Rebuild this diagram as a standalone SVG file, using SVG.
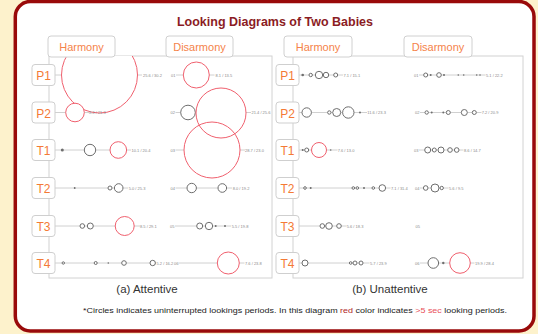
<svg xmlns="http://www.w3.org/2000/svg" width="538" height="334" viewBox="0 0 538 334">
<defs>
<clipPath id="clipL"><rect x="49" y="56" width="223" height="222"/></clipPath>
<style>
.frame{fill:#ffffff;stroke:#990a0a;stroke-width:3.5}
.panel{fill:#ffffff;stroke:#d2d2d2;stroke-width:1}
.tab{fill:#ffffff;stroke:#d0d0d0;stroke-width:1}
.tabt{font-family:"Liberation Sans",Arial,sans-serif;font-size:11px;fill:#f5834a;text-anchor:middle}
.rowbox{fill:#ffffff;stroke:#cfcfcf;stroke-width:1}
.rowt{font-family:"Liberation Sans",Arial,sans-serif;font-size:12px;fill:#f47a35;text-anchor:middle}
.ln{stroke:#c4c4c4;stroke-width:0.8;fill:none}
.g{fill:#ffffff;stroke:#6e6e6e;stroke-width:1}
.d{fill:#6e6e6e;stroke:none}
.r{fill:#ffffff;stroke:#f0606e;stroke-width:1}
.rn{fill:none;stroke:#f0606e;stroke-width:1}
.v{font-family:"Liberation Sans",Arial,sans-serif;font-size:4px;fill:#8a8a8a}
.cap{font-family:"Liberation Sans",Arial,sans-serif;font-size:11.5px;fill:#333333;text-anchor:middle}
</style>
</defs>
<rect x="0" y="0" width="538" height="334" fill="#fdf2cc"/>
<rect class="frame" x="15.3" y="1.5" width="518.7" height="329.5" rx="15"/>
<text x="275" y="26" font-family="'Liberation Sans',Arial,sans-serif" font-size="12.5" font-weight="bold" fill="#8b1c24" text-anchor="middle" textLength="196" lengthAdjust="spacingAndGlyphs">Looking Diagrams of Two Babies</text>

<g id="panel-left">
<rect class="panel" x="49" y="56" width="223" height="222"/>
</g>
<g id="panel-right">
<rect class="panel" x="293" y="56" width="230" height="222"/>
</g>

<g id="connectors">
<path class="ln" d="M55 75H61.5M137.5 75H142M176 75H214.5
M55 112.5H89M175.5 112.5H196M246 112.5H251
M55 150H131M175.5 150H184M240 150H245
M55 188H128M175.5 188H232
M55 226H140M175 226H231
M55 263H156M178.5 263H244.5
M299 75H343M419 75H485.5
M299 112.5H367M420 112.5H481.5
M299 150H337.5M419 150H463.5
M299 188H390.5M420 188H448.5
M299 226H346.5
M299 263H369.5M420 263H474.5"/>
</g>

<g id="left-P1">
<circle class="r" cx="99.5" cy="75" r="38" clip-path="url(#clipL)"/>
<text class="v" x="143" y="76.5">25.6 / 30.2</text>
<text class="v" x="171" y="76.5">01</text>
<circle class="r" cx="196.3" cy="75" r="13"/>
<text class="v" x="215.5" y="76.5">8.1 / 13.5</text>
</g>
<g id="left-P2">
<circle class="r" cx="75" cy="112.5" r="9.3"/>
<text class="v" x="89" y="114">8.3 / 21.3</text>
<text class="v" x="170.5" y="114">02</text>
<circle class="g" cx="188" cy="112.5" r="7.3" stroke-width="1.3"/>
<circle class="rn" cx="221" cy="113" r="25"/>
<text class="v" x="251.5" y="114">21.4 / 25.6</text>
</g>
<g id="left-T1">
<circle class="d" cx="62.3" cy="150" r="1.5"/>
<circle class="g" cx="90" cy="150" r="5.7" stroke-width="1.2"/>
<circle class="r" cx="118.3" cy="150" r="8.3"/>
<text class="v" x="131.5" y="151.5">10.1 / 20.4</text>
<text class="v" x="170.5" y="151.5">03</text>
<circle class="rn" cx="212" cy="150" r="28"/>
<text class="v" x="245" y="151.5">28.7 / 23.0</text>
</g>
<g id="left-T2">
<circle class="d" cx="74.7" cy="188" r="0.9"/>
<circle class="g" cx="110" cy="188" r="2"/>
<circle class="g" cx="118.7" cy="188" r="4.3" stroke-width="1.2"/>
<text class="v" x="128.7" y="189.5">5.0 / 25.3</text>
<text class="v" x="170.5" y="189.5">04</text>
<circle class="g" cx="191.7" cy="188" r="4.7" stroke-width="1.2"/>
<circle class="g" cx="222.3" cy="188" r="4.3" stroke-width="1.2"/>
<text class="v" x="232.7" y="189.5">8.0 / 19.2</text>
</g>
<g id="left-T3">
<circle class="g" cx="82.3" cy="226" r="2.3"/>
<circle class="g" cx="90.3" cy="226" r="3"/>
<circle class="r" cx="124.7" cy="226" r="9.5"/>
<text class="v" x="140" y="227.5">8.5 / 29.1</text>
<text class="v" x="170" y="227.5">05</text>
<circle class="g" cx="199.7" cy="226" r="3"/>
<circle class="g" cx="209" cy="226" r="3.7"/>
<circle class="d" cx="215.7" cy="226" r="1"/>
<circle class="d" cx="225" cy="226" r="1"/>
<text class="v" x="231.7" y="227.5">5.5 / 19.8</text>
</g>
<g id="left-T4">
<circle class="g" cx="63.3" cy="263" r="1.2"/>
<circle class="g" cx="95.7" cy="263" r="1.5"/>
<circle class="d" cx="108.3" cy="263" r="0.8"/>
<circle class="g" cx="124" cy="263" r="2.3"/>
<circle class="g" cx="152.7" cy="263" r="2.7" stroke-width="1.2"/>
<text class="v" x="156.5" y="264.5">5.2 / 16.2</text>
<text class="v" x="174" y="264.5">06</text>
<circle class="r" cx="228.3" cy="263" r="11"/>
<text class="v" x="245" y="264.5">7.6 / 23.8</text>
</g>

<g id="right-P1">
<circle class="d" cx="302.7" cy="75" r="1.3"/>
<circle class="g" cx="310.7" cy="75" r="1.7"/>
<circle class="g" cx="319" cy="75" r="3.7"/>
<circle class="g" cx="326" cy="75" r="2.7"/>
<circle class="g" cx="335.7" cy="75" r="2"/>
<text class="v" x="343.5" y="76.5">7.1 / 15.1</text>
<text class="v" x="414" y="76.5">01</text>
<circle class="g" cx="425.7" cy="75" r="2"/>
<circle class="d" cx="430.7" cy="75" r="1"/>
<circle class="g" cx="439" cy="75" r="2.3"/>
<circle class="d" cx="444" cy="75" r="1"/>
<circle class="d" cx="458.3" cy="75" r="0.8"/>
<circle class="d" cx="463.7" cy="75" r="0.8"/>
<circle class="d" cx="476.7" cy="75" r="0.8"/>
<circle class="d" cx="480" cy="75" r="0.8"/>
<text class="v" x="486" y="76.5">5.1 / 22.2</text>
</g>
<g id="right-P2">
<circle class="g" cx="306.7" cy="112.5" r="4.7" stroke-width="1.2"/>
<circle class="g" cx="329.3" cy="112.5" r="1.7"/>
<circle class="g" cx="336.7" cy="112.5" r="4" stroke-width="1.2"/>
<circle class="g" cx="348.3" cy="112.5" r="5.7" stroke-width="1.2"/>
<circle class="d" cx="360" cy="112.5" r="1"/>
<text class="v" x="367.3" y="114">11.6 / 23.3</text>
<text class="v" x="415" y="114">02</text>
<circle class="g" cx="426.7" cy="112.5" r="1.7"/>
<circle class="d" cx="431.7" cy="112.5" r="1"/>
<circle class="d" cx="443.3" cy="112.5" r="1"/>
<circle class="g" cx="448.3" cy="112.5" r="2"/>
<circle class="g" cx="464.3" cy="112.5" r="3"/>
<circle class="g" cx="474.3" cy="112.5" r="2"/>
<text class="v" x="481.7" y="114">7.2 / 20.9</text>
</g>
<g id="right-T1">
<circle class="d" cx="302.7" cy="150" r="1"/>
<circle class="g" cx="306.7" cy="150" r="2"/>
<circle class="r" cx="319" cy="150" r="7.5"/>
<circle class="d" cx="330.7" cy="150" r="0.8"/>
<text class="v" x="337.7" y="151.5">7.6 / 13.0</text>
<text class="v" x="414" y="151.5">03</text>
<circle class="g" cx="427.7" cy="150" r="3"/>
<circle class="g" cx="434.3" cy="150" r="2"/>
<circle class="g" cx="441" cy="150" r="3"/>
<circle class="g" cx="450" cy="150" r="2.3"/>
<circle class="g" cx="456.7" cy="150" r="2.3"/>
<text class="v" x="464" y="151.5">8.6 / 14.7</text>
</g>
<g id="right-T2">
<circle class="g" cx="305" cy="188" r="1.3"/>
<circle class="d" cx="310.7" cy="188" r="1"/>
<circle class="g" cx="353.3" cy="188" r="1.3"/>
<circle class="g" cx="357.3" cy="188" r="1.3"/>
<circle class="d" cx="364" cy="188" r="1"/>
<circle class="g" cx="373.3" cy="188" r="1.3"/>
<circle class="g" cx="382.3" cy="188" r="3.3"/>
<text class="v" x="391" y="189.5">7.1 / 31.4</text>
<text class="v" x="415" y="189.5">04</text>
<circle class="g" cx="425.7" cy="188" r="2.3"/>
<circle class="g" cx="435" cy="188" r="4" stroke-width="1.2"/>
<circle class="g" cx="441.7" cy="188" r="1.7"/>
<text class="v" x="449" y="189.5">5.6 / 9.5</text>
</g>
<g id="right-T3">
<circle class="g" cx="322.3" cy="226" r="2.3"/>
<circle class="g" cx="329" cy="226" r="3.3" stroke-width="1.2"/>
<circle class="g" cx="339" cy="226" r="2.3"/>
<text class="v" x="346.7" y="227.5">5.6 / 18.3</text>
<text class="v" x="415.5" y="227.5">05</text>
</g>
<g id="right-T4">
<circle class="g" cx="305" cy="263" r="3"/>
<circle class="g" cx="350.7" cy="263" r="1.3"/>
<circle class="g" cx="355" cy="263" r="2"/>
<circle class="g" cx="361" cy="263" r="2"/>
<text class="v" x="370" y="264.5">5.7 / 23.9</text>
<text class="v" x="415" y="264.5">06</text>
<circle class="g" cx="433.3" cy="263" r="5.3" stroke-width="1.5"/>
<circle class="d" cx="443.3" cy="263" r="1.2"/>
<circle class="r" cx="460" cy="263" r="10.3"/>
<text class="v" x="475" y="264.5">19.9 / 28.4</text>
</g>

<g id="tab-left-harmony"><rect class="tab" x="48" y="36" width="67" height="21" rx="3"/><text class="tabt" x="81.5" y="51">Harmony</text></g>
<g id="tab-left-disarmony"><rect class="tab" x="166" y="36" width="67" height="21" rx="3"/><text class="tabt" x="199.5" y="51">Disarmony</text></g>
<g id="tab-right-harmony"><rect class="tab" x="284" y="36" width="68" height="21" rx="3"/><text class="tabt" x="318" y="51">Harmony</text></g>
<g id="tab-right-disarmony"><rect class="tab" x="404" y="36" width="68" height="21" rx="3"/><text class="tabt" x="438" y="51">Disarmony</text></g>

<g id="lbl-left-P1"><rect class="rowbox" x="32" y="64.5" width="23" height="21" rx="3"/><text class="rowt" x="43.5" y="80">P1</text></g>
<g id="lbl-left-P2"><rect class="rowbox" x="32" y="102" width="23" height="21" rx="3"/><text class="rowt" x="43.5" y="117.5">P2</text></g>
<g id="lbl-left-T1"><rect class="rowbox" x="32" y="139.5" width="23" height="21" rx="3"/><text class="rowt" x="43.5" y="155">T1</text></g>
<g id="lbl-left-T2"><rect class="rowbox" x="32" y="177.5" width="23" height="21" rx="3"/><text class="rowt" x="43.5" y="193">T2</text></g>
<g id="lbl-left-T3"><rect class="rowbox" x="32" y="215.5" width="23" height="21" rx="3"/><text class="rowt" x="43.5" y="231">T3</text></g>
<g id="lbl-left-T4"><rect class="rowbox" x="32" y="252.5" width="23" height="21" rx="3"/><text class="rowt" x="43.5" y="268">T4</text></g>

<g id="lbl-right-P1"><rect class="rowbox" x="276" y="64.5" width="23" height="21" rx="3"/><text class="rowt" x="287.5" y="80">P1</text></g>
<g id="lbl-right-P2"><rect class="rowbox" x="276" y="102" width="23" height="21" rx="3"/><text class="rowt" x="287.5" y="117.5">P2</text></g>
<g id="lbl-right-T1"><rect class="rowbox" x="276" y="139.5" width="23" height="21" rx="3"/><text class="rowt" x="287.5" y="155">T1</text></g>
<g id="lbl-right-T2"><rect class="rowbox" x="276" y="177.5" width="23" height="21" rx="3"/><text class="rowt" x="287.5" y="193">T2</text></g>
<g id="lbl-right-T3"><rect class="rowbox" x="276" y="215.5" width="23" height="21" rx="3"/><text class="rowt" x="287.5" y="231">T3</text></g>
<g id="lbl-right-T4"><rect class="rowbox" x="276" y="252.5" width="23" height="21" rx="3"/><text class="rowt" x="287.5" y="268">T4</text></g>

<text class="cap" x="147" y="293">(a) Attentive</text>
<text class="cap" x="390" y="293">(b) Unattentive</text>
<text x="83" y="313" font-family="'Liberation Sans',Arial,sans-serif" font-size="7.2" fill="#222222" textLength="424" lengthAdjust="spacingAndGlyphs">*Circles indicates uninterrupted lookings periods. In this diagram <tspan fill="#b01e1e">red</tspan> color indicates <tspan fill="#e8505a">&gt;5 sec</tspan> looking periods.</text>
</svg>
